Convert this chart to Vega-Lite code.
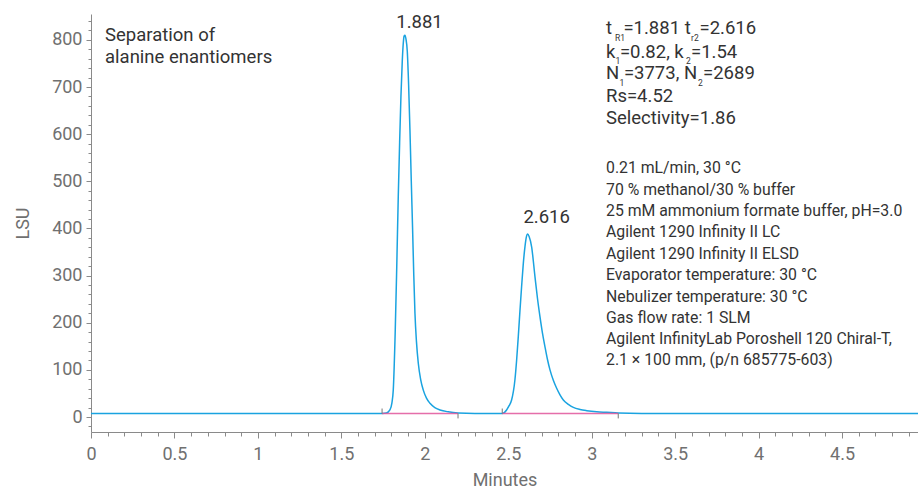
{
  "$schema": "https://vega.github.io/schema/vega-lite/v6.json",
  "width": 827,
  "height": 418,
  "autosize": {"type": "none"},
  "padding": {"left": 91, "top": 14, "right": 0, "bottom": 57},
  "config": {
    "view": {"stroke": null},
    "font": "Roboto",
    "axis": {
      "domainColor": "#8a8a8a",
      "tickColor": "#8a8a8a",
      "labelColor": "#707070",
      "titleColor": "#707070",
      "labelFont": "Roboto",
      "titleFont": "Roboto",
      "labelFontSize": 18,
      "titleFontSize": 18,
      "titleFontWeight": "normal",
      "grid": false,
      "labelOverlap": false,
      "labelFlush": false
    }
  },
  "datasets": {
    "sig": [
      {"t": 0, "v": 7.5}, {"t": 0.5, "v": 7.6}, {"t": 1.0, "v": 7.4}, {"t": 1.5, "v": 7.5},
      {"t": 1.744, "v": 7.5}, {"t": 1.77, "v": 8.5}, {"t": 1.791, "v": 15}, {"t": 1.803, "v": 30},
      {"t": 1.811, "v": 57}, {"t": 1.823, "v": 185}, {"t": 1.832, "v": 320}, {"t": 1.841, "v": 468},
      {"t": 1.849, "v": 580}, {"t": 1.857, "v": 680}, {"t": 1.865, "v": 755}, {"t": 1.871, "v": 793},
      {"t": 1.876, "v": 808}, {"t": 1.881, "v": 810}, {"t": 1.887, "v": 802}, {"t": 1.895, "v": 776},
      {"t": 1.903, "v": 705}, {"t": 1.911, "v": 609}, {"t": 1.919, "v": 500}, {"t": 1.927, "v": 397},
      {"t": 1.934, "v": 300}, {"t": 1.941, "v": 220}, {"t": 1.95, "v": 160}, {"t": 1.961, "v": 114},
      {"t": 1.975, "v": 80}, {"t": 1.991, "v": 57}, {"t": 2.01, "v": 40}, {"t": 2.031, "v": 29},
      {"t": 2.06, "v": 20}, {"t": 2.091, "v": 15}, {"t": 2.14, "v": 11}, {"t": 2.199, "v": 8.5},
      {"t": 2.3, "v": 7.5}, {"t": 2.464, "v": 7.5}, {"t": 2.49, "v": 15}, {"t": 2.505, "v": 24},
      {"t": 2.52, "v": 36}, {"t": 2.54, "v": 79}, {"t": 2.55, "v": 120}, {"t": 2.56, "v": 170},
      {"t": 2.57, "v": 225}, {"t": 2.58, "v": 277}, {"t": 2.59, "v": 325}, {"t": 2.60, "v": 361},
      {"t": 2.608, "v": 381}, {"t": 2.616, "v": 388}, {"t": 2.625, "v": 383}, {"t": 2.64, "v": 361},
      {"t": 2.66, "v": 298}, {"t": 2.675, "v": 252}, {"t": 2.69, "v": 213}, {"t": 2.705, "v": 178},
      {"t": 2.72, "v": 149}, {"t": 2.735, "v": 122}, {"t": 2.75, "v": 100}, {"t": 2.77, "v": 78},
      {"t": 2.79, "v": 61}, {"t": 2.81, "v": 47}, {"t": 2.83, "v": 36}, {"t": 2.86, "v": 27},
      {"t": 2.89, "v": 20.5}, {"t": 2.93, "v": 16}, {"t": 2.97, "v": 13.4}, {"t": 3.03, "v": 11},
      {"t": 3.09, "v": 9.9}, {"t": 3.159, "v": 8.5}, {"t": 3.3, "v": 7.6}, {"t": 3.6, "v": 7.5},
      {"t": 4.0, "v": 7.4}, {"t": 4.5, "v": 7.6}, {"t": 4.955, "v": 7.5}
    ],
    "bl": [
      {"t": 1.744, "v": 7.5, "seg": "a"}, {"t": 2.199, "v": 7.5, "seg": "a"},
      {"t": 2.464, "v": 7.5, "seg": "b"}, {"t": 3.159, "v": 7.5, "seg": "b"}
    ],
    "ticks": [
      {"t": 1.744, "v": 7.5, "v2": 18},
      {"t": 2.199, "v": 7.5, "v2": -3},
      {"t": 2.464, "v": 7.5, "v2": 18},
      {"t": 3.159, "v": 7.5, "v2": -3}
    ],
    "main": [
      {"t": 0.0839, "v": 810.6, "text": "Separation of"},
      {"t": 0.0839, "v": 763.9, "text": "alanine enantiomers"},
      {"t": 3.0857, "v": 824.8, "text": "t"},
      {"t": 3.190, "v": 824.8, "text": "=1.881 t"},
      {"t": 3.646, "v": 824.8, "text": "=2.616"},
      {"t": 3.0857, "v": 775.2, "text": "k"},
      {"t": 3.169, "v": 775.2, "text": "=0.82, k"},
      {"t": 3.595, "v": 775.2, "text": "=1.54"},
      {"t": 3.0857, "v": 729.3, "text": "N"},
      {"t": 3.193, "v": 729.3, "text": "=3773, N"},
      {"t": 3.667, "v": 729.3, "text": "=2689"},
      {"t": 3.0857, "v": 681.2, "text": "Rs=4.52"},
      {"t": 3.0857, "v": 633.8, "text": "Selectivity=1.86"}
    ],
    "sub": [
      {"t": 3.139, "v": 804.6, "text": "R1"},
      {"t": 3.595, "v": 804.6, "text": "r2"},
      {"t": 3.142, "v": 755.0, "text": "1"},
      {"t": 3.565, "v": 755.0, "text": "2"},
      {"t": 3.166, "v": 709.1, "text": "1"},
      {"t": 3.637, "v": 709.1, "text": "2"}
    ],
    "lower": [
      {"t": 3.0857, "v": 527.7, "text": "0.21 mL/min, 30 °C"},
      {"t": 3.0857, "v": 481.7, "text": "70 % methanol/30 % buffer"},
      {"t": 3.0857, "v": 437.1, "text": "25 mM ammonium formate buffer, pH=3.0"},
      {"t": 3.0857, "v": 391.9, "text": "Agilent 1290 Infinity II LC"},
      {"t": 3.0857, "v": 345.9, "text": "Agilent 1290 Infinity II ELSD"},
      {"t": 3.0857, "v": 301.3, "text": "Evaporator temperature: 30 °C"},
      {"t": 3.0857, "v": 255.3, "text": "Nebulizer temperature: 30 °C"},
      {"t": 3.0857, "v": 210.7, "text": "Gas flow rate: 1 SLM"},
      {"t": 3.0857, "v": 164.9, "text": "Agilent InfinityLab Poroshell 120 Chiral-T,"},
      {"t": 3.0857, "v": 121.0, "text": "2.1 × 100 mm, (p/n 685775-603)"}
    ],
    "peaks": [
      {"t": 1.968, "v": 838.8, "text": "1.881"},
      {"t": 2.730, "v": 425.0, "text": "2.616"}
    ]
  },
  "resolve": {"axis": {"x": "independent", "y": "independent"}},
  "layer": [
    {
      "data": {"name": "sig"},
      "mark": {"type": "line", "color": "#1aa3e0", "strokeWidth": 1.5, "interpolate": "monotone"},
      "encoding": {
        "x": {
          "field": "t", "type": "quantitative",
          "scale": {"domain": [0, 4.955], "nice": false, "zero": false},
          "axis": {
            "title": "Minutes",
            "orient": "bottom",
            "labelOverlap": false,
            "labelFlush": false,
            "values": [0, 0.5, 1, 1.5, 2, 2.5, 3, 3.5, 4, 4.5],
            "format": "~g",
            "tickSize": 6,
            "labelPadding": 7,
            "titlePadding": 8
          }
        },
        "y": {
          "field": "v", "type": "quantitative",
          "scale": {"domain": [-31.8, 855], "nice": false, "zero": false},
          "axis": {
            "title": "LSU",
            "orient": "left",
            "labelOverlap": false,
            "values": [0, 100, 200, 300, 400, 500, 600, 700, 800],
            "format": "d",
            "tickSize": 5,
            "labelPadding": 4,
            "titlePadding": 19
          }
        }
      }
    },
    {
      "data": {"name": "bl"},
      "mark": {"type": "line", "color": "#e0559b", "strokeWidth": 1.6, "opacity": 0.85},
      "encoding": {
        "x": {"field": "t", "type": "quantitative", "axis": null},
        "y": {"field": "v", "type": "quantitative", "axis": null},
        "detail": {"field": "seg"}
      }
    },
    {
      "data": {"name": "ticks"},
      "mark": {"type": "rule", "color": "#777777", "strokeWidth": 1},
      "encoding": {
        "x": {
          "field": "t", "type": "quantitative",
          "axis": {
            "orient": "bottom", "title": null, "labels": false, "domain": false, "tickSize": 4,
            "values": [0.1,0.2,0.3,0.4,0.6,0.7,0.8,0.9,1.1,1.2,1.3,1.4,1.6,1.7,1.8,1.9,2.1,2.2,2.3,2.4,2.6,2.7,2.8,2.9,3.1,3.2,3.3,3.4,3.6,3.7,3.8,3.9,4.1,4.2,4.3,4.4,4.6,4.7,4.8,4.9]
          }
        },
        "y": {
          "field": "v", "type": "quantitative",
          "axis": {
            "orient": "left", "title": null, "labels": false, "domain": false, "tickSize": 3,
            "values": [-20,20,40,60,80,120,140,160,180,220,240,260,280,320,340,360,380,420,440,460,480,520,540,560,580,620,640,660,680,720,740,760,780,820,840]
          }
        },
        "y2": {"field": "v2"}
      }
    },
    {
      "data": {"name": "main"},
      "mark": {"type": "text", "align": "left", "baseline": "middle", "font": "Roboto", "fontSize": 18.5, "color": "#333333"},
      "encoding": {
        "x": {"field": "t", "type": "quantitative", "axis": null},
        "y": {"field": "v", "type": "quantitative", "axis": null},
        "text": {"field": "text"}
      }
    },
    {
      "data": {"name": "sub"},
      "mark": {"type": "text", "align": "left", "baseline": "middle", "font": "Roboto", "fontSize": 8.5, "color": "#333333"},
      "encoding": {
        "x": {"field": "t", "type": "quantitative", "axis": null},
        "y": {"field": "v", "type": "quantitative", "axis": null},
        "text": {"field": "text"}
      }
    },
    {
      "data": {"name": "lower"},
      "mark": {"type": "text", "align": "left", "baseline": "middle", "font": "Roboto", "fontSize": 15.8, "color": "#333333"},
      "encoding": {
        "x": {"field": "t", "type": "quantitative", "axis": null},
        "y": {"field": "v", "type": "quantitative", "axis": null},
        "text": {"field": "text"}
      }
    },
    {
      "data": {"name": "peaks"},
      "mark": {"type": "text", "align": "center", "baseline": "middle", "font": "Roboto", "fontSize": 18.5, "color": "#333333"},
      "encoding": {
        "x": {"field": "t", "type": "quantitative", "axis": null},
        "y": {"field": "v", "type": "quantitative", "axis": null},
        "text": {"field": "text"}
      }
    }
  ]
}
